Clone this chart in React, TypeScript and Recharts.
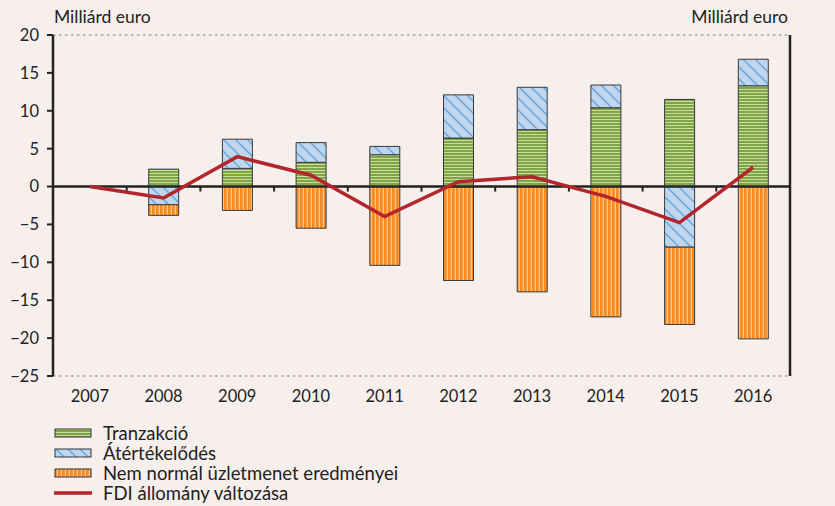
import React from 'react';
import {
  ComposedChart, Bar, Line, XAxis, YAxis, CartesianGrid, ReferenceLine,
} from 'recharts';

const years = ['2007', '2008', '2009', '2010', '2011', '2012', '2013', '2014', '2015', '2016'];
const tranzakcio = [null, 2.3, 2.4, 3.2, 4.2, 6.4, 7.5, 10.4, 11.5, 13.3];
const atertekelodes = [null, -2.4, 3.85, 2.6, 1.1, 5.7, 5.6, 3.0, -8.0, 3.5];
const nemNormal = [null, -1.4, -3.15, -5.5, -10.4, -12.4, -13.9, -17.2, -10.2, -20.1];
const fdiValtozas = [0, -1.5, 3.95, 1.5, -3.95, 0.65, 1.3, -1.3, -4.75, 2.55];
const yTicks = [20, 15, 10, 5, 0, -5, -10, -15, -20, -25];
const seriesNames = ['Tranzakció', 'Átértékelődés', 'Nem normál üzletmenet eredményei', 'FDI állomány változása'];
const unitLabel = 'Milliárd euro';

const data = years.map((y, i) => ({
  year: y,
  tranzakcio: tranzakcio[i],
  atertekelodes: atertekelodes[i],
  nemNormal: nemNormal[i],
  fdi: fdiValtozas[i],
}));

const FONT = 'Lato, "Open Sans", sans-serif';
const BG = '#f6efec';
const fmt = (v: number) => (v < 0 ? '\u2212' + Math.abs(v) : String(v));

const Defs = () => (
  <svg width={0} height={0} style={{ position: 'absolute', left: 0, top: 0 }}>
    <defs>
      <pattern id="pGreen" patternUnits="userSpaceOnUse" width={8} height={3}>
        <rect x={0} y={0} width={8} height={3} fill="#c8dca4" />
        <rect x={0} y={0} width={8} height={2} fill="#7fa544" />
      </pattern>
      <pattern id="pBlue" patternUnits="userSpaceOnUse" width={12} height={12}>
        <rect x={0} y={0} width={12} height={12} fill="#bfd7ee" />
        <path d="M0,0 L12,12 M-3,9 L3,15 M9,-3 L15,3" stroke="#6aa6da" strokeWidth={1.5} />
      </pattern>
      <pattern id="pOrange" patternUnits="userSpaceOnUse" width={4} height={8}>
        <rect x={0} y={0} width={4} height={8} fill="#fcc68e" />
        <rect x={0} y={0} width={2.7} height={8} fill="#f68b1f" />
      </pattern>
    </defs>
  </svg>
);

const ZeroLine = (p: any) => {
  const { x1, y1, x2 } = p;
  const n = years.length;
  const ticks = [];
  for (let k = 1; k < n; k++) {
    const x = x1 + ((x2 - x1) * k) / n;
    ticks.push(<line key={k} x1={x} x2={x} y1={y1} y2={y1 + 5} stroke="#222" strokeWidth={2} />);
  }
  return (
    <g>
      <line x1={x1} x2={x2} y1={y1} y2={y1} stroke="#222" strokeWidth={2.5} />
      {ticks}
    </g>
  );
};

const UnitLabelLeft = (props: any) => {
  const vb = props.viewBox || {};
  return (
    <text x={vb.x + vb.width + 1} y={vb.y - 12} fontSize={17.5} fontFamily={FONT} fill="#222" textAnchor="start">
      {unitLabel}
    </text>
  );
};

const UnitLabelRight = (props: any) => {
  const vb = props.viewBox || {};
  return (
    <text x={vb.x - 2} y={vb.y - 12} fontSize={17.5} fontFamily={FONT} fill="#222" textAnchor="end">
      {unitLabel}
    </text>
  );
};

const Swatch = ({ kind }: { kind: string }) => (
  <svg width={38} height={12} style={{ display: 'block' }}>
    {kind === 'line' ? (
      <line x1={0} x2={38} y1={6} y2={6} stroke="#b3262c" strokeWidth={3.5} />
    ) : (
      <rect x={1} y={2} width={36} height={8} fill={`url(#${kind})`} stroke="#333" strokeWidth={1} />
    )}
  </svg>
);

export default function App() {
  const kinds = ['pGreen', 'pBlue', 'pOrange', 'line'];
  const tickStyle = { fill: '#222', fontSize: 16.5, fontFamily: FONT };
  return (
    <div style={{ position: 'absolute', left: 0, top: 0, width: 835, height: 506, background: BG, fontFamily: FONT, color: '#222' }}>
      <Defs />
      <ComposedChart
        width={835}
        height={506}
        data={data}
        stackOffset="sign"
        margin={{ top: 35, right: 0, left: 0, bottom: 100 }}
      >
        <CartesianGrid vertical={false} stroke="#a8a4a2" strokeDasharray="2.5 3.5" strokeWidth={1.3} />
        <XAxis
          dataKey="year"
          axisLine={false}
          tickLine={false}
          tickSize={6}
          tickMargin={8}
          height={30}
          tick={tickStyle}
        />
        <YAxis
          yAxisId="left"
          domain={[-25, 20]}
          ticks={yTicks}
          interval={0}
          width={53}
          tickFormatter={fmt}
          axisLine={{ stroke: '#222', strokeWidth: 2.5 }}
          tickLine={{ stroke: '#222', strokeWidth: 2 }}
          tickSize={6}
          tickMargin={8}
          tick={tickStyle}
          label={<UnitLabelLeft />}
        />
        <YAxis
          yAxisId="right"
          orientation="right"
          domain={[-25, 20]}
          ticks={yTicks}
          interval={0}
          width={45}
          tickFormatter={fmt}
          axisLine={{ stroke: '#222', strokeWidth: 2.5 }}
          tickLine={{ stroke: '#222', strokeWidth: 2 }}
          tickSize={6}
          tickMargin={8}
          tick={{ ...tickStyle, textAnchor: 'start' }}
          label={<UnitLabelRight />}
        />
        <Bar yAxisId="left" dataKey="tranzakcio" name={seriesNames[0]} stackId="a" barSize={30}
          fill="url(#pGreen)" stroke="#3a3a3a" strokeWidth={1} isAnimationActive={false} />
        <Bar yAxisId="left" dataKey="atertekelodes" name={seriesNames[1]} stackId="a" barSize={30}
          fill="url(#pBlue)" stroke="#3a3a3a" strokeWidth={1} isAnimationActive={false} />
        <Bar yAxisId="left" dataKey="nemNormal" name={seriesNames[2]} stackId="a" barSize={30}
          fill="url(#pOrange)" stroke="#3a3a3a" strokeWidth={1} isAnimationActive={false} />
        <ReferenceLine yAxisId="left" y={0} shape={ZeroLine} />
        <Line yAxisId="left" dataKey="fdi" name={seriesNames[3]} type="linear" stroke="#b3262c"
          strokeWidth={3.5} dot={false} isAnimationActive={false} />
      </ComposedChart>
      <div style={{ position: 'absolute', left: 54, top: 423, fontSize: 18.5, lineHeight: '20px', whiteSpace: 'nowrap' }}>
        {seriesNames.map((n, i) => (
          <div key={n} style={{ display: 'flex', alignItems: 'center', height: 20 }}>
            <Swatch kind={kinds[i]} />
            <span style={{ marginLeft: 11 }}>{n}</span>
          </div>
        ))}
      </div>
    </div>
  );
}
